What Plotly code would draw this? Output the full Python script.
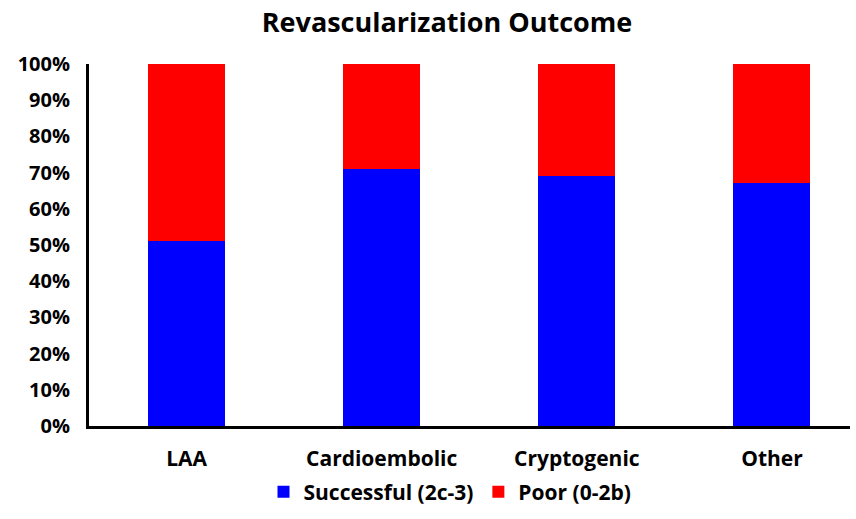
import plotly.graph_objects as go

categories = ["LAA", "Cardioembolic", "Cryptogenic", "Other"]
successful = [51, 71, 69, 67]
poor = [49, 29, 31, 33]
y_ticks = [0, 10, 20, 30, 40, 50, 60, 70, 80, 90, 100]
y_tick_labels = [f"{v}%" for v in y_ticks]

FONT = "Open Sans"

fig = go.Figure()
fig.add_trace(go.Bar(x=categories, y=successful, name="Successful (2c-3)",
                     marker=dict(color="#0000FF", line=dict(width=0))))
fig.add_trace(go.Bar(x=categories, y=poor, name="Poor (0-2b)",
                     marker=dict(color="#FF0000", line=dict(width=0))))

fig.update_layout(
    barmode="stack",
    bargap=0.605,
    width=856, height=519,
    margin=dict(l=89, r=6, t=64, b=93, autoexpand=False),
    paper_bgcolor="white", plot_bgcolor="white",
    title=dict(text="Revascularization Outcome", x=447/856, xref="container",
               xanchor="center", y=1 - 23/519, yref="container", yanchor="middle",
               font=dict(family=FONT, size=27, color="black", weight="bold")),
    font=dict(family=FONT, size=21, color="black", weight="bold"),
    showlegend=True,
    legend=dict(orientation="h", x=450/856, xref="container", xanchor="center",
                y=27/519, yref="container", yanchor="middle", traceorder="normal",
                font=dict(family=FONT, size=21, color="black", weight="bold"),
                itemwidth=30),
)
fig.update_xaxes(range=[-0.5, 3.4], showline=True, linecolor="black", linewidth=3,
                 ticks="", showgrid=False, zeroline=False, ticklabelstandoff=12,
                 automargin=False,
                 tickfont=dict(family=FONT, size=21, color="black", weight="bold"))
fig.update_yaxes(range=[0, 100], tickvals=y_ticks, ticktext=y_tick_labels, showline=True,
                 linecolor="black", linewidth=3, ticks="", showgrid=False, zeroline=False,
                 ticklabelstandoff=12, automargin=False,
                 tickfont=dict(family=FONT, size=20, color="black", weight="bold"))

fig.write_html("out.html", config={"displayModeBar": False},
               post_script="document.body.style.margin='0';")
